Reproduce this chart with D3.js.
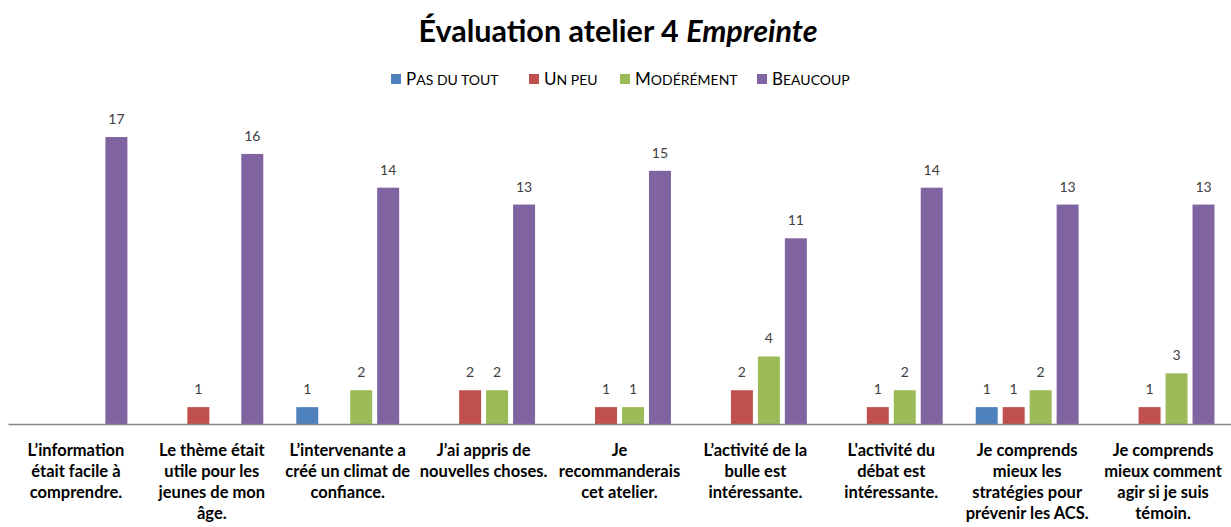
<!DOCTYPE html>
<html><head><meta charset="utf-8">
<script src="https://cdn.jsdelivr.net/npm/d3@7"></script>
<style>
body{margin:0;background:#fff;}
svg{display:block;font-family:Lato,"Open Sans",sans-serif;}
</style></head><body>
<svg id="c" width="1231" height="527"></svg>
<script>
const categories = [
 "L’information\nétait facile à\ncomprendre.",
 "Le thème était\nutile pour les\njeunes de mon\nâge.",
 "L’intervenante a\ncréé un climat de\nconfiance.",
 "J’ai appris de\nnouvelles choses.",
 "Je\nrecommanderais\ncet atelier.",
 "L’activité de la\nbulle est\nintéressante.",
 "L'activité du\ndébat est\nintéressante.",
 "Je comprends\nmieux les\nstratégies pour\nprévenir les ACS.",
 "Je comprends\nmieux comment\nagir si je suis\ntémoin."
];
const seriesNames = ["Pas du tout","Un peu","Modérément","Beaucoup"];
const seriesColors = ["#4F81BD","#C0504D","#9BBB59","#8064A2"];
const pasDuTout = [0,0,1,0,0,0,0,1,0];
const unPeu = [0,1,0,2,1,2,1,1,1];
const moderement = [0,0,2,2,1,4,2,2,3];
const beaucoup = [17,16,14,13,15,11,14,13,13];
const seriesValues = [pasDuTout, unPeu, moderement, beaucoup];

const svg = d3.select("#c");
const left = 8, right = 1231, base = 424;
const x0 = d3.scaleBand().domain(d3.range(categories.length)).range([left, right]).padding(0);
const x1 = d3.scaleBand().domain(d3.range(4)).range([16.5, x0.bandwidth()-16.5]).paddingInner(0.185);
const y = d3.scaleLinear().domain([0,18]).range([base, base-18*16.88]);

// title
const t = svg.append("text").attr("x",618).attr("y",42).attr("text-anchor","middle")
  .attr("font-size",30.5).attr("font-weight","bold").attr("fill","#000");
t.append("tspan").text("Évaluation atelier 4 ");
t.append("tspan").attr("font-style","italic").text("Empreinte");

// legend (small caps drawn manually: first letter full size, rest small capitals)
const legX = [391, 529, 620, 757];
const leg = svg.append("g");
seriesNames.forEach((n,i)=>{
  leg.append("rect").attr("x",legX[i]).attr("y",74).attr("width",10).attr("height",10).attr("fill",seriesColors[i]);
  const tx = leg.append("text").attr("x",legX[i]+15).attr("y",85).attr("fill","#000");
  tx.append("tspan").attr("font-size",17).text(n[0].toUpperCase());
  tx.append("tspan").attr("font-size",14).text(n.slice(1).toUpperCase());
});

// bars
const g = svg.append("g");
categories.forEach((c,ci)=>{
  seriesValues.forEach((vals,si)=>{
    const v = vals[ci];
    if(!v) return;
    const bx = x0(ci)+x1(si);
    g.append("rect").attr("x",bx).attr("y",y(v)).attr("width",x1.bandwidth()).attr("height",base-y(v))
      .attr("fill",seriesColors[si]);
    g.append("text").attr("x",bx+x1.bandwidth()/2).attr("y",y(v)-13).attr("text-anchor","middle")
      .attr("font-size",14).attr("fill","#404040").text(v);
  });
});

// axis
const axis = svg.append("g").attr("transform",`translate(0,${base})`)
  .call(d3.axisBottom(x0).tickSize(0).tickFormat(""));
axis.select(".domain").attr("stroke","#868686").attr("stroke-width",1.5);

// category labels
categories.forEach((c,ci)=>{
  const tx = svg.append("text").attr("text-anchor","middle").attr("font-size",16.5)
    .attr("font-weight","bold").attr("fill","#000");
  c.split("\n").forEach((line,li)=>{
    tx.append("tspan").attr("x",x0(ci)+x0.bandwidth()/2).attr("y",456+li*21).text(line);
  });
});
</script>
</body></html>
